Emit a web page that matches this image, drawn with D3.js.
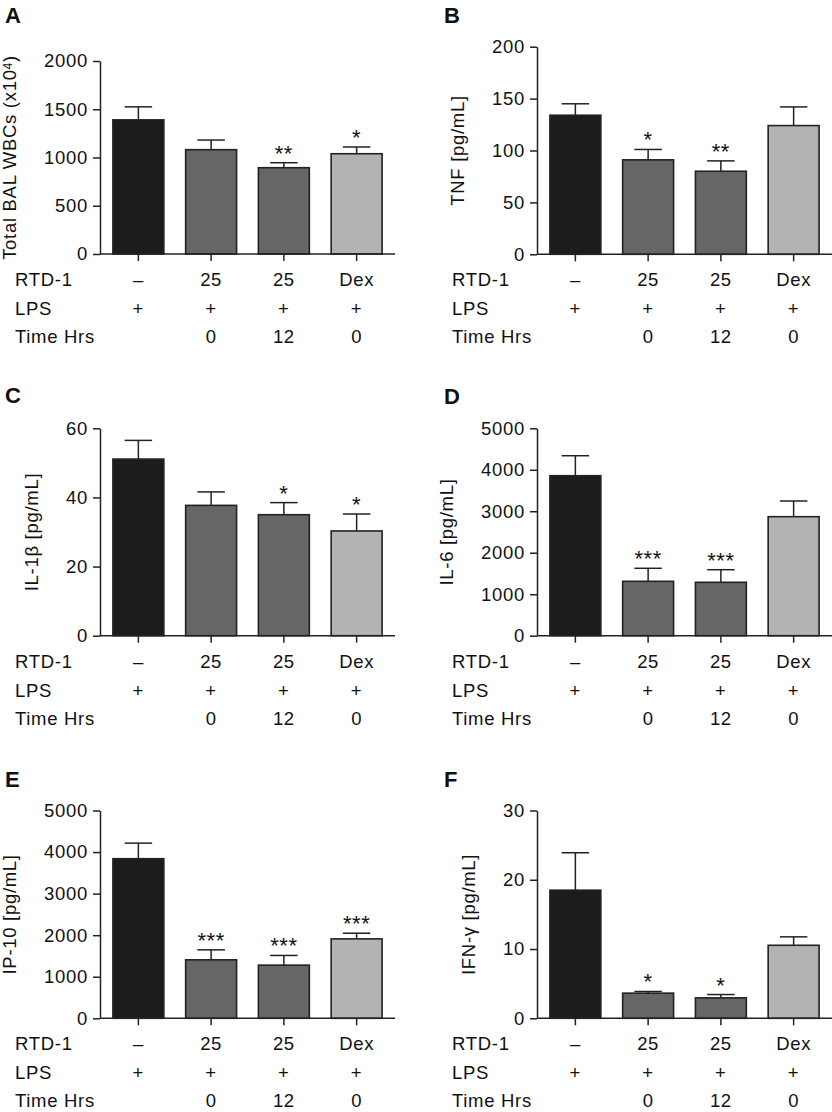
<!DOCTYPE html>
<html>
<head>
<meta charset="utf-8">
<script src="https://cdn.jsdelivr.net/npm/d3@7"></script>
<style>
  body { margin: 0; background: #fff; }
  svg text { font-family: "Liberation Sans", Arial, Helvetica, sans-serif; fill: #111; }
</style>
</head>
<body>
<div id="chart"></div>
<script>
// groups along the x axis and the table under each panel
const groups = ["ctrl", "rtd0", "rtd12", "dex"];
const rtdRow = ["\u2013", "25", "25", "Dex"];
const lpsRow = ["+", "+", "+", "+"];
const timeRow = ["", "0", "12", "0"];
const barColors = ["#1c1c1c", "#666666", "#666666", "#b3b3b3"];

// A - total BAL WBCs (x10^4)
const wbcMean = [1390, 1081, 894, 1039];
const wbcSem = [135, 100, 52, 70];
const wbcStars = ["", "", "**", "*"];
const wbcTicks = [0, 500, 1000, 1500, 2000];

// B - TNF
const tnfMean = [134, 91, 80, 124];
const tnfSem = [11, 10, 10, 18];
const tnfStars = ["", "*", "**", ""];
const tnfTicks = [0, 50, 100, 150, 200];

// C - IL-1b
const il1bMean = [51.1, 37.7, 35.0, 30.3];
const il1bSem = [5.4, 3.9, 3.5, 4.9];
const il1bStars = ["", "", "*", "*"];
const il1bTicks = [0, 20, 40, 60];

// D - IL-6
const il6Mean = [3857, 1311, 1287, 2869];
const il6Sem = [482, 314, 304, 378];
const il6Stars = ["", "***", "***", ""];
const il6Ticks = [0, 1000, 2000, 3000, 4000, 5000];

// E - IP-10
const ip10Mean = [3840, 1407, 1279, 1911];
const ip10Sem = [375, 240, 233, 136];
const ip10Stars = ["", "***", "***", "***"];
const ip10Ticks = [0, 1000, 2000, 3000, 4000, 5000];

// F - IFN-gamma
const ifngMean = [18.5, 3.63, 2.95, 10.54];
const ifngSem = [5.4, 0.24, 0.48, 1.22];
const ifngStars = ["", "*", "*", ""];
const ifngTicks = [0, 10, 20, 30];

const svg = d3.select("#chart").append("svg")
  .attr("width", 832)
  .attr("height", 1112);

const FS = 18.5, LS = 0.7;

function drawPanel(p) {
  const g = svg.append("g").attr("transform", "translate(" + p.ox + ",0)");

  const y = d3.scaleLinear().domain([0, d3.max(p.ticks)]).range([p.bottom, p.top]);
  const x = d3.scaleBand().domain(groups).range([2, 293]).paddingInner(0.3).paddingOuter(0.15);

  // panel letter
  svg.append("text")
    .attr("x", p.lx).attr("y", p.ly)
    .attr("font-size", 22).attr("font-weight", "bold")
    .text(p.letter);

  // bars
  g.selectAll(".bar")
    .data(p.mean)
    .enter().append("rect")
    .attr("x", (d, i) => x(groups[i]))
    .attr("y", d => y(d))
    .attr("width", x.bandwidth())
    .attr("height", d => p.bottom - y(d))
    .attr("fill", (d, i) => barColors[i])
    .attr("stroke", "#222")
    .attr("stroke-width", 1.6);

  // error bars (upper only)
  const cap = x.bandwidth() * 0.27;
  p.mean.forEach(function (m, i) {
    const cx = x(groups[i]) + x.bandwidth() / 2;
    const top = y(m + p.sem[i]);
    g.append("line")
      .attr("x1", cx).attr("x2", cx)
      .attr("y1", y(m)).attr("y2", top)
      .attr("stroke", "#222").attr("stroke-width", 1.5);
    g.append("line")
      .attr("x1", cx - cap).attr("x2", cx + cap)
      .attr("y1", top).attr("y2", top)
      .attr("stroke", "#222").attr("stroke-width", 1.5);
    if (p.stars[i]) {
      g.append("text")
        .attr("x", cx).attr("y", top - 2)
        .attr("text-anchor", "middle")
        .attr("font-size", 22)
        .attr("letter-spacing", 0.5)
        .text(p.stars[i]);
    }
  });

  // y axis
  const yAxis = g.append("g")
    .call(d3.axisLeft(y).tickValues(p.ticks).tickSize(7).tickPadding(5).tickSizeOuter(0)
      .tickFormat(d3.format("d")));
  yAxis.attr("font-family", null).attr("font-size", null);
  yAxis.selectAll("text").attr("font-size", FS).attr("letter-spacing", LS).attr("fill", "#111");
  yAxis.selectAll("line, path").attr("stroke", "#222").attr("stroke-width", 1.5);

  // x axis
  const xAxis = g.append("g")
    .attr("transform", "translate(0," + p.bottom + ")")
    .call(d3.axisBottom(x).tickSize(7).tickSizeOuter(0).tickFormat(""));
  xAxis.select(".domain").attr("d", "M0,0H295");
  xAxis.selectAll("line, path").attr("stroke", "#222").attr("stroke-width", 1.5);

  // y label, placed left of the widest tick label
  let minX = 0;
  yAxis.selectAll("text").each(function () {
    const b = this.getBBox();
    minX = Math.min(minX, b.x - 12);
  });
  const lab = g.append("text")
    .attr("transform", "translate(" + (minX - 16) + "," + ((p.top + p.bottom) / 2) + ") rotate(-90)")
    .attr("text-anchor", "middle")
    .attr("font-size", FS)
    .attr("letter-spacing", LS);
  p.label(lab);

  // condition table
  const rows = [["RTD-1", rtdRow], ["LPS", lpsRow], ["Time Hrs", timeRow]];
  const rowY = [32, 61, 89];
  rows.forEach(function (r, ri) {
    g.append("text")
      .attr("x", -85).attr("y", p.bottom + rowY[ri])
      .attr("font-size", FS).attr("letter-spacing", LS)
      .text(r[0]);
    g.selectAll(".c" + ri)
      .data(r[1])
      .enter().append("text")
      .attr("x", (d, i) => x(groups[i]) + x.bandwidth() / 2)
      .attr("y", p.bottom + rowY[ri])
      .attr("text-anchor", "middle")
      .attr("font-size", FS).attr("letter-spacing", LS)
      .text(d => d);
  });
}

const panels = [
  { letter: "A", lx: 5, ly: 23, ox: 100, top: 61, bottom: 254,
    mean: wbcMean, sem: wbcSem, stars: wbcStars, ticks: wbcTicks,
    label: t => {
      t.append("tspan").text("Total BAL WBCs (x10");
      t.append("tspan").attr("dy", -4).attr("font-size", 12).text("4");
      t.append("tspan").attr("dy", 4).text(")");
    } },
  { letter: "B", lx: 444, ly: 23, ox: 537, top: 46.7, bottom: 254.3,
    mean: tnfMean, sem: tnfSem, stars: tnfStars, ticks: tnfTicks,
    label: t => t.text("TNF [pg/mL]") },
  { letter: "C", lx: 5, ly: 403, ox: 100, top: 428.3, bottom: 635.7,
    mean: il1bMean, sem: il1bSem, stars: il1bStars, ticks: il1bTicks,
    label: t => t.text("IL-1\u03b2 [pg/mL]") },
  { letter: "D", lx: 444, ly: 404, ox: 537, top: 428.3, bottom: 635.7,
    mean: il6Mean, sem: il6Sem, stars: il6Stars, ticks: il6Ticks,
    label: t => t.text("IL-6 [pg/mL]") },
  { letter: "E", lx: 5, ly: 787, ox: 100, top: 810.5, bottom: 1018.3,
    mean: ip10Mean, sem: ip10Sem, stars: ip10Stars, ticks: ip10Ticks,
    label: t => t.text("IP-10 [pg/mL]") },
  { letter: "F", lx: 444, ly: 787, ox: 537, top: 810.5, bottom: 1018.3,
    mean: ifngMean, sem: ifngSem, stars: ifngStars, ticks: ifngTicks,
    label: t => t.text("IFN-\u03b3 [pg/mL]") }
];

panels.forEach(drawPanel);
</script>
</body>
</html>
